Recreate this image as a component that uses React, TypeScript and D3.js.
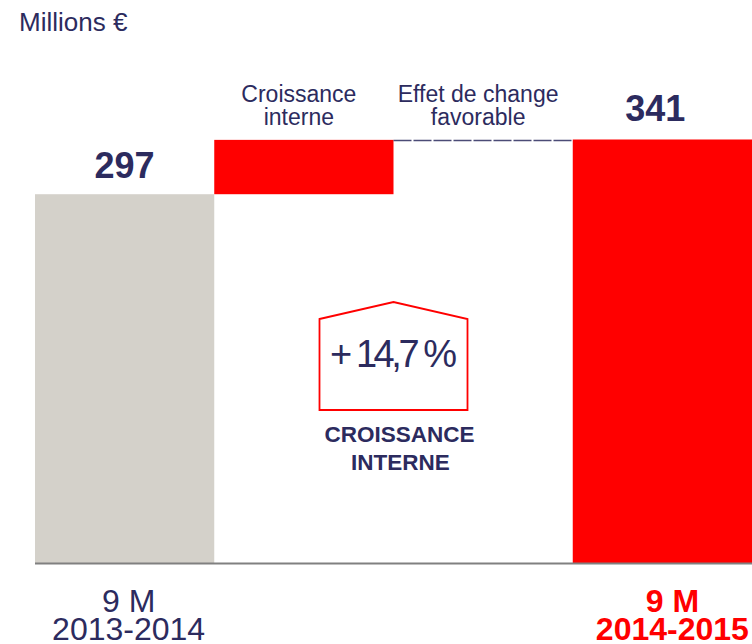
import React from "react";
import * as d3 from "d3";

const categories = ["9 M 2013-2014", "Croissance interne", "Effet de change favorable", "9 M 2014-2015"];
const stepValues = [297, 43.7, 0.3, 341];
const stepKinds = ["total", "delta", "delta", "total"];
const topLabels = [["Croissance", "interne"], ["Effet de change", "favorable"]];
const valueLabels = ["297", "341"];
const bottomLabels = [["9 M", "2013-2014"], ["9 M", "2014-2015"]];
const unitLabel = "Millions €";
const growthLabel = "+ 14,7 %";
const growthCaption = ["CROISSANCE", "INTERNE"];

const W = 752;
const H = 644;
const NAVY = "#2C2B5E";
const RED = "#FF0000";
const GREY = "#D4D1CA";
const FONT = "'Liberation Sans', Arial, sans-serif";

export default function App() {
  const x = d3.scaleBand<string>().domain(categories).range([35, 752]).padding(0);
  const y = d3.scaleLinear().domain([0, 341]).range([563.5, 139.5]);
  const bw = x.bandwidth();

  let running = 0;
  const segs = categories.map((c, i) => {
    const v = stepValues[i];
    if (stepKinds[i] === "total") {
      running = v;
      return { c, y0: 0, y1: v, kind: "total" };
    }
    const s = { c, y0: running, y1: running + v, kind: "delta" };
    running += v;
    return s;
  });

  const xs = (i: number) => x(categories[i]) as number;
  const cx = (i: number) => xs(i) + bw / 2;

  const fxTop = segs[2].y1;
  const pentCx = xs(2);
  const pent = [
    [pentCx - 74, 319],
    [pentCx, 302],
    [pentCx + 74, 319],
    [pentCx + 74, 410],
    [pentCx - 74, 410],
  ];

  return (
    <svg
      width={W}
      height={H}
      style={{ position: "absolute", left: 0, top: 0, background: "#fff" }}
      fontFamily={FONT}
    >
      <rect x={0} y={0} width={W} height={H} fill="#fff" />
      <text x={19} y={31} fontSize={26} fill={NAVY}>{unitLabel}</text>

      <rect x={xs(0)} y={y(segs[0].y1)} width={bw} height={y(segs[0].y0) - y(segs[0].y1)} fill={GREY} />
      <rect x={xs(1)} y={y(segs[1].y1)} width={bw} height={y(segs[1].y0) - y(segs[1].y1)} fill={RED} />
      <rect x={xs(3)} y={y(segs[3].y1)} width={bw} height={y(segs[3].y0) - y(segs[3].y1)} fill={RED} />

      <line
        x1={xs(2)}
        x2={xs(3)}
        y1={y(fxTop) + 1}
        y2={y(fxTop) + 1}
        stroke={NAVY}
        strokeWidth={1.3}
        strokeDasharray="18 2"
        strokeOpacity={0.85}
      />

      <line x1={35} x2={752} y1={y(0)} y2={y(0)} stroke="#808080" strokeWidth={2} />

      <text x={cx(0)} y={178} textAnchor="middle" fontSize={36} fontWeight="bold" fill={NAVY}>{valueLabels[0]}</text>
      <text x={cx(3) - 7} y={121} textAnchor="middle" fontSize={36} fontWeight="bold" fill={NAVY}>{valueLabels[1]}</text>

      {topLabels.map((lines, k) => (
        <text key={k} x={cx(k + 1) - 5} textAnchor="middle" fontSize={23} fill={NAVY}>
          <tspan x={cx(k + 1) - 5} y={102}>{lines[0]}</tspan>
          <tspan x={cx(k + 1) - 5} y={124.5}>{lines[1]}</tspan>
        </text>
      ))}

      <polygon points={pent.map((p) => p.join(",")).join(" ")} fill="none" stroke={RED} strokeWidth={1.8} />
      <text x={pentCx} y={367} textAnchor="middle" fontSize={38} fill={NAVY} textLength={127}>{growthLabel}</text>
      <text textAnchor="middle" fontSize={22.5} fontWeight="bold" fill={NAVY}>
        <tspan x={pentCx + 6} y={442}>{growthCaption[0]}</tspan>
        <tspan x={pentCx + 7} y={470}>{growthCaption[1]}</tspan>
      </text>

      <text textAnchor="middle" fontSize={32} fill={NAVY}>
        <tspan x={cx(0) + 4} y={612}>{bottomLabels[0][0]}</tspan>
        <tspan x={cx(0) + 4} y={640}>{bottomLabels[0][1]}</tspan>
      </text>
      <text textAnchor="middle" fontSize={32} fontWeight="bold" fill={RED}>
        <tspan x={cx(3) + 10} y={612}>{bottomLabels[1][0]}</tspan>
        <tspan x={cx(3) + 10} y={640}>{bottomLabels[1][1]}</tspan>
      </text>
    </svg>
  );
}
